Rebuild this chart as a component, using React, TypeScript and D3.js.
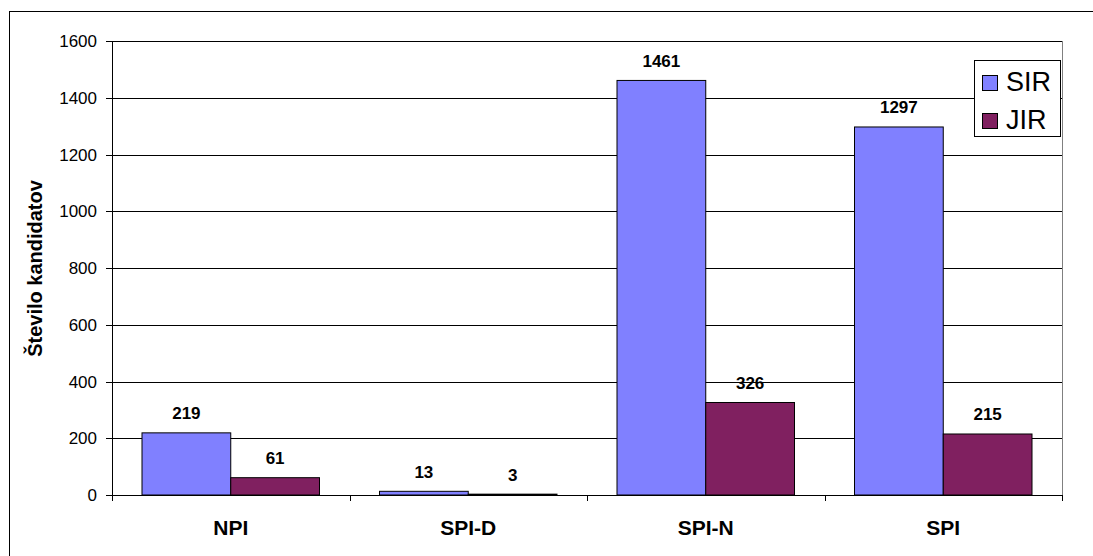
import React from "react";
import * as d3 from "d3";

const categories = ["NPI", "SPI-D", "SPI-N", "SPI"];
const seriesNames = ["SIR", "JIR"];
const sirValues = [219, 13, 1461, 1297];
const jirValues = [61, 3, 326, 215];
const yTicks = [0, 200, 400, 600, 800, 1000, 1200, 1400, 1600];
const colors = ["#8080FF", "#802060"];

const W = 1093;
const H = 556;
const left = 112;
const right = 1062;
const top = 41;
const bottom = 495;

export default function App() {
  const y = d3.scaleLinear().domain([0, 1600]).range([bottom, top]);
  const x = d3.scaleBand().domain(categories).range([left, right]).paddingInner(0).paddingOuter(0);
  const bw = x.bandwidth();
  const pad = 30;
  const inner = d3.scaleBand().domain(seriesNames).range([pad, bw - pad]).padding(0);
  const series = [sirValues, jirValues];
  const font = "'Liberation Sans', Arial, sans-serif";

  return (
    <svg width={W} height={H} style={{ position: "absolute", left: 0, top: 0 }} fontFamily={font}>
      <rect x={0} y={0} width={W} height={H} fill="#fff" />
      <rect x={9.5} y={11.5} width={W + 20} height={H + 20} fill="none" stroke="#000" strokeWidth={1} />
      {/* gridlines */}
      {yTicks.map((t) => (
        <line key={t} x1={left} x2={right} y1={Math.round(y(t)) + 0.5} y2={Math.round(y(t)) + 0.5} stroke="#000" strokeWidth={1} />
      ))}
      <line x1={right + 0.5} x2={right + 0.5} y1={top} y2={bottom} stroke="#808080" strokeWidth={1} />
      {/* bars */}
      {series.map((vals, si) =>
        vals.map((v, ci) => {
          const bx = (x(categories[ci]) as number) + (inner(seriesNames[si]) as number);
          const by = y(v);
          return (
            <rect
              key={`${si}-${ci}`}
              x={bx}
              y={by}
              width={inner.bandwidth()}
              height={Math.max(0, y(0) - by)}
              fill={colors[si]}
              stroke="#000"
              strokeWidth={1}
            />
          );
        })
      )}
      {/* data labels */}
      {series.map((vals, si) =>
        vals.map((v, ci) => {
          const cx = (x(categories[ci]) as number) + (inner(seriesNames[si]) as number) + inner.bandwidth() / 2;
          return (
            <text key={`l${si}-${ci}`} x={cx} y={y(v) - 13.5} textAnchor="middle" fontSize={17} fontWeight="bold" fill="#000">
              {v}
            </text>
          );
        })
      )}
      {/* y axis */}
      <line x1={left + 0.5} x2={left + 0.5} y1={top} y2={bottom + 6} stroke="#000" strokeWidth={1} />
      {yTicks.map((t) => (
        <g key={`yt${t}`}>
          <line x1={left - 6} x2={left} y1={Math.round(y(t)) + 0.5} y2={Math.round(y(t)) + 0.5} stroke="#000" />
          <text x={97} y={y(t) + 6} textAnchor="end" fontSize={17} fill="#000">
            {t}
          </text>
        </g>
      ))}
      {/* x axis */}
      <line x1={left} x2={right} y1={Math.round(y(0)) + 0.5} y2={Math.round(y(0)) + 0.5} stroke="#000" />
      {categories.map((c, i) => (
        <g key={c}>
          <line
            x1={Math.round((x(c) as number) + bw) + 0.5}
            x2={Math.round((x(c) as number) + bw) + 0.5}
            y1={bottom}
            y2={bottom + 6}
            stroke="#000"
          />
          <text x={(x(c) as number) + bw / 2} y={535} textAnchor="middle" fontSize={21} fontWeight="bold" fill="#000">
            {c}
          </text>
        </g>
      ))}
      {/* y label */}
      <text
        transform={`translate(42, 268.5) rotate(-90)`}
        textAnchor="middle"
        fontSize={20}
        fontWeight="bold"
        fill="#000"
      >
        Število kandidatov
      </text>
      {/* legend */}
      <rect x={974.5} y={60.5} width={86} height={76} fill="#fff" stroke="#000" />
      {seriesNames.map((s, i) => (
        <g key={s}>
          <rect x={982.5} y={75.5 + i * 38} width={15} height={15} fill={colors[i]} stroke="#000" />
          <text x={1006} y={90.5 + i * 38} fontSize={27} fill="#000">
            {s}
          </text>
        </g>
      ))}
    </svg>
  );
}
